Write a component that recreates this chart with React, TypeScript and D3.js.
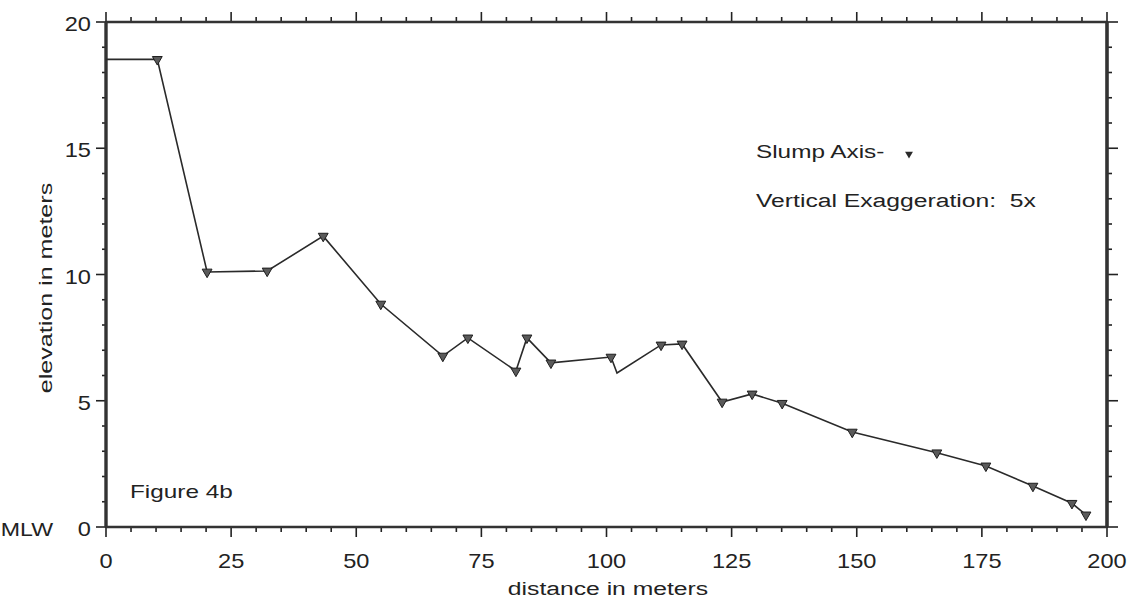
import React from "react";
import * as d3 from "d3";

// profile along the slump axis (line vertices); hasMarker = slump axis survey point
const distance = [0, 10.25, 20.2, 32.2, 43.4, 54.9, 67.3, 72.3, 81.9, 84.1, 88.9, 100.9, 102.1, 110.9, 115.1, 123.1, 129.1, 135.1, 149.1, 166.0, 175.8, 185.2, 193.0, 195.8];
const elevation = [18.52, 18.52, 10.1, 10.14, 11.52, 8.83, 6.77, 7.49, 6.18, 7.49, 6.5, 6.73, 6.1, 7.21, 7.25, 4.95, 5.27, 4.9, 3.76, 2.94, 2.42, 1.62, 0.94, 0.48];
const hasMarker = [false, true, true, true, true, true, true, true, true, true, true, true, false, true, true, true, true, true, true, true, true, true, true, true];

const xTickLabels = [0, 25, 50, 75, 100, 125, 150, 175, 200];
const yTickLabels = [0, 5, 10, 15, 20];

const layout = {
  width: 1129,
  height: 610,
  left: 106,
  right: 1107,
  top: 22,
  bottom: 527,
  font: "'Liberation Sans', Arial, sans-serif",
  ink: "#222",
};

const xScale = d3.scaleLinear().domain([0, 200]).range([layout.left, layout.right]);
const yScale = d3.scaleLinear().domain([0, 20]).range([layout.bottom, layout.top]);

const triangle = d3.symbol().type(d3.symbolTriangle).size(42)();

const Label = ({ x, y, size, stretch = 1.28, anchor = "start", rotate = 0, children }: any) => (
  <text
    transform={`translate(${x},${y}) rotate(${rotate}) scale(${stretch},1)`}
    textAnchor={anchor}
    fontSize={size}
    fontFamily={layout.font}
    fill={layout.ink}
  >
    {children}
  </text>
);

const App = () => {
  const points = distance.map((d, i) => ({ d, e: elevation[i], m: hasMarker[i] }));
  const line = d3
    .line<any>()
    .x((p) => xScale(p.d))
    .y((p) => yScale(p.e));

  const xMinor = d3.range(0, 201, 5);
  const yMinor = d3.range(0, 21, 1);

  return (
    <svg
      width={layout.width}
      height={layout.height}
      style={{ position: "absolute", left: 0, top: 0, background: "#fff" }}
    >
      {/* ticks, outward on all four sides */}
      <g stroke={layout.ink} strokeWidth={1.6}>
        {xMinor.map((v) => {
          const major = v % 25 === 0;
          const len = major ? 10 : 5;
          return (
            <g key={"x" + v}>
              <line x1={xScale(v)} x2={xScale(v)} y1={layout.bottom} y2={layout.bottom + len} />
              <line x1={xScale(v)} x2={xScale(v)} y1={layout.top} y2={layout.top - len} />
            </g>
          );
        })}
        {yMinor.map((v) => {
          const major = v % 5 === 0;
          const len = major ? 10 : 4;
          return (
            <g key={"y" + v}>
              <line x1={layout.left} x2={layout.left - len} y1={yScale(v)} y2={yScale(v)} />
              <line x1={layout.right} x2={layout.right + (major ? 11 : 5)} y1={yScale(v)} y2={yScale(v)} />
            </g>
          );
        })}
      </g>

      {/* frame */}
      <g stroke="#333" fill="none">
        <line x1={layout.left} x2={layout.right} y1={layout.top} y2={layout.top} strokeWidth={2.6} />
        <line x1={layout.left} x2={layout.right} y1={layout.bottom} y2={layout.bottom} strokeWidth={2.6} />
        <line x1={layout.left} x2={layout.left} y1={layout.top} y2={layout.bottom} strokeWidth={3.4} />
        <line x1={layout.right} x2={layout.right} y1={layout.top} y2={layout.bottom} strokeWidth={3.6} />
      </g>

      {/* tick labels */}
      {xTickLabels.map((v) => (
        <Label key={"xl" + v} x={xScale(v)} y={568} size={20} stretch={1.18} anchor="middle">
          {v}
        </Label>
      ))}
      {yTickLabels.map((v) => (
        <Label key={"yl" + v} x={91} y={yScale(v) + 9} size={20} stretch={1.18} anchor="end">
          {v}
        </Label>
      ))}
      <Label x={53} y={536} size={19} stretch={1.22} anchor="end">MLW</Label>

      {/* axis titles */}
      <Label x={608} y={595} size={19} stretch={1.3} anchor="middle">distance in meters</Label>
      <Label x={52} y={288} size={19} stretch={1.32} anchor="middle" rotate={-90}>elevation in meters</Label>

      {/* profile */}
      <path d={line(points) || ""} fill="none" stroke="#2a2a2a" strokeWidth={1.6} />
      {points
        .filter((p) => p.m)
        .map((p, i) => (
          <path
            key={"m" + i}
            d={triangle}
            transform={`translate(${xScale(p.d)},${yScale(p.e)}) rotate(180)`}
            fill="#5a5a5a"
            stroke="#1e1e1e"
            strokeWidth={1}
          />
        ))}

      {/* annotations */}
      <Label x={756} y={158} size={19} stretch={1.28}>Slump Axis-</Label>
      <path d={triangle} transform="translate(909,154) rotate(180) scale(0.8)" fill="#2a2a2a" />
      <Label x={756} y={207} size={19} stretch={1.3}>{"Vertical Exaggeration:\u00a0\u00a05x"}</Label>
      <Label x={130} y={498} size={19} stretch={1.28}>Figure 4b</Label>
    </svg>
  );
};

export default App;
